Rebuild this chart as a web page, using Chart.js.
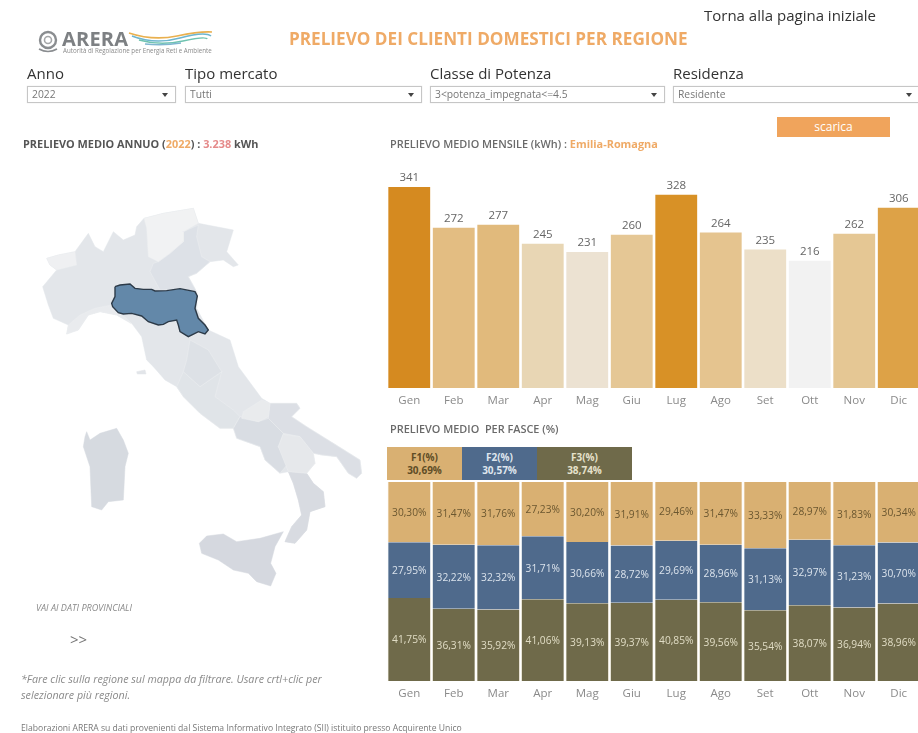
<!DOCTYPE html>
<html lang="it">
<head>
<meta charset="utf-8">
<title>Prelievo dei clienti domestici per regione</title>
<script src="https://cdn.jsdelivr.net/npm/chart.js@4"></script>
<style>
html,body{margin:0;padding:0;background:#fff;width:918px;height:733px;overflow:hidden;}
#page{position:absolute;left:0;top:0;width:918px;height:733px;overflow:hidden;font-family:"Open Sans",sans-serif;filter:blur(0.35px);}
.t{position:absolute;white-space:nowrap;line-height:1;}
.c{position:absolute;}
.lab{font-size:15px;color:#333;top:66px;}
.dd{position:absolute;top:86px;height:15px;border:1px solid #c6c6c6;box-shadow:0 0 1px #ddd;font-size:10.3px;color:#777;line-height:15px;padding-left:4px;box-sizing:content-box;}
.dd:after{content:"";position:absolute;right:7px;top:6px;border-left:3px solid transparent;border-right:3px solid transparent;border-top:4px solid #444;}
.h{font-size:10.9px;font-weight:700;color:#5f5f5f;}
.tile{position:absolute;top:447px;height:33px;font-size:10px;font-weight:700;text-align:center;line-height:13px;padding-top:4px;box-sizing:border-box;}
</style>
</head>
<body>
<div id="page">
  <svg class="c" style="left:35px;top:29px" width="180" height="26" viewBox="0 0 180 26">
    <circle cx="13" cy="11" r="8" fill="none" stroke="#8a8d90" stroke-width="2.4"/>
    <circle cx="13" cy="11" r="3.5" fill="none" stroke="#a5a7a9" stroke-width="1.6"/>
    <path d="M4 20 Q13 25 22 20" fill="none" stroke="#8a8d90" stroke-width="1.6"/>
    <path d="M94 4 Q118 12 142 7 T177 3" fill="none" stroke="#e9b04f" stroke-width="1.6"/>
    <path d="M97 7 Q120 16 145 9 T176 7" fill="none" stroke="#6db5cf" stroke-width="1.6"/>
    <path d="M104 11 Q125 17 148 12 T172 10" fill="none" stroke="#6fc3b0" stroke-width="1.6"/>
    <path d="M110 15 Q128 17 146 14" fill="none" stroke="#7fb6d0" stroke-width="1.4"/>
  </svg>
  <div class="t" style="left:62px;top:29px;font-size:20px;font-weight:700;color:#7d8083;letter-spacing:.2px">ARERA</div>
  <div class="t" style="left:63px;top:48px;font-size:6.2px;color:#8a8a8a">Autorità di Regolazione per Energia Reti e Ambiente</div>

  <div class="t" id="title" style="left:289px;top:30px;font-size:17.15px;font-weight:700;color:#efaa66">PRELIEVO DEI CLIENTI DOMESTICI PER REGIONE</div>
  <div class="t" style="left:704px;top:8px;font-size:15px;color:#333">Torna alla pagina iniziale</div>

  <div class="t lab" style="left:27px">Anno</div>
  <div class="t lab" style="left:185px">Tipo mercato</div>
  <div class="t lab" style="left:430px">Classe di Potenza</div>
  <div class="t lab" style="left:673px">Residenza</div>
  <div class="dd" style="left:27px;width:143px">2022</div>
  <div class="dd" style="left:185px;width:231px">Tutti</div>
  <div class="dd" style="left:430px;width:229px">3&lt;potenza_impegnata&lt;=4.5</div>
  <div class="dd" style="left:673px;width:241px">Residente</div>

  <div class="t" style="left:777px;top:117px;width:113px;height:20px;background:#f0a45c;color:#fff;font-size:12px;text-align:center;line-height:20px">scarica</div>

  <div class="t h" style="left:23px;top:139px;color:#555">PRELIEVO MEDIO ANNUO (<span style="color:#efaa66">2022</span>) : <span style="color:#e58a8a">3.238</span> kWh</div>
  <div class="t h" style="left:390px;top:139px;font-weight:600;color:#6a6a6a">PRELIEVO MEDIO MENSILE (kWh) : <span style="color:#efaa66;font-weight:700">Emilia-Romagna</span></div>
  <div class="t h" style="left:390px;top:424px;font-weight:600;color:#6a6a6a">PRELIEVO MEDIO&nbsp; PER FASCE (%)</div>

  <div class="tile" style="left:387px;width:75px;background:#d9b072;color:#5f4d26">F1(%)<br>30,69%</div>
  <div class="tile" style="left:462px;width:75px;background:#4f6a8c;color:#dfe6ee">F2(%)<br>30,57%</div>
  <div class="tile" style="left:537px;width:95px;background:#6f6a4a;color:#e6e2cc">F3(%)<br>38,74%</div>

  <div class="c" style="left:20px;top:190px;width:350px;height:410px;filter:blur(0.5px)"><canvas id="map"></canvas></div>
  <div class="c" style="left:387px;top:160px;width:534px;height:250px"><canvas id="monthly"></canvas></div>
  <div class="c" style="left:387px;top:482px;width:534px;height:221px"><canvas id="bands"></canvas></div>

  <div class="t" style="left:36px;top:603px;font-size:9.1px;font-style:italic;color:#8a8a8a">VAI AI DATI PROVINCIALI</div>
  <div class="t" style="left:70px;top:632px;font-size:15px;color:#777">&gt;&gt;</div>
  <div class="t" style="left:21px;top:674px;font-size:10.7px;font-style:italic;color:#8a8a8a">*Fare clic sulla regione sul mappa da filtrare. Usare crtl+clic per</div>
  <div class="t" style="left:21px;top:690px;font-size:10.7px;font-style:italic;color:#8a8a8a">selezionare più regioni.</div>
  <div class="t" style="left:21px;top:724px;font-size:8.6px;color:#777">Elaborazioni ARERA su dati provenienti dal Sistema Informativo Integrato (SII) istituito presso Acquirente Unico</div>
</div>

<script>
const months = ["Gen","Feb","Mar","Apr","Mag","Giu","Lug","Ago","Set","Ott","Nov","Dic"];
const monthlyKwh = [341,272,277,245,231,260,328,264,235,216,262,306];
const f1Pct = [30.30,31.47,31.76,27.23,30.20,31.91,29.46,31.47,33.33,28.97,31.83,30.34];
const f2Pct = [27.95,32.22,32.32,31.71,30.66,28.72,29.69,28.96,31.13,32.97,31.23,30.70];
const f3Pct = [41.75,36.31,35.92,41.06,39.13,39.37,40.85,39.56,35.54,38.07,36.94,38.96];

const mainland = [[80,205],[115,195],[165,185],[205,130],[225,170],[250,185],[280,125],[310,150],[345,135],[350,110],[372,85],[430,70],[520,55],[535,100],[640,120],[620,185],[655,225],[640,230],[610,210],[570,215],[530,250],[505,260],[530,305],[530,355],[565,420],[630,450],[655,530],[725,625],[750,640],[830,640],[840,655],[815,680],[860,710],[940,760],[1020,810],[1025,850],[1010,865],[985,850],[950,800],[905,795],[880,790],[885,820],[860,850],[880,880],[910,905],[915,950],[870,965],[860,1020],[825,1060],[795,1055],[815,1010],[845,975],[835,930],[820,880],[805,845],[780,850],[735,810],[720,770],[650,745],[640,715],[600,715],[540,670],[490,620],[470,590],[435,570],[400,530],[380,510],[365,440],[335,400],[290,375],[240,365],[205,375],[175,420],[140,432],[145,405],[100,385],[85,345],[68,290],[110,240],[90,225]];
const valleAosta = [[80,205],[115,195],[165,185],[170,225],[110,240],[90,225]];
const trentino = [[372,85],[430,70],[520,55],[535,100],[490,125],[490,155],[450,190],[415,215],[385,200],[380,115]];
const veneto = [[490,125],[535,105],[530,140],[545,200],[570,215],[530,250],[505,260],[530,305],[480,298],[420,300],[390,245],[400,220],[415,215],[450,190],[490,155]];
const liguria = [[140,432],[145,405],[180,375],[225,355],[275,345],[295,368],[320,385],[335,402],[290,375],[240,365],[205,375],[175,420]];
const umbria = [[510,450],[565,480],[605,545],[540,590],[490,545],[500,510]];
const lazio = [[470,590],[490,545],[540,590],[605,545],[585,620],[640,660],[660,680],[640,715],[600,715],[540,670],[490,620]];
const molise = [[670,665],[725,630],[750,640],[745,680],[715,695],[665,685]];
const puglia = [[750,640],[830,640],[840,655],[815,680],[860,710],[940,760],[1020,810],[1025,850],[1010,865],[985,850],[950,800],[905,795],[880,790],[840,740],[790,730],[745,685]];
const campania = [[660,680],[715,695],[745,685],[790,730],[775,770],[805,820],[780,850],[735,810],[720,770],[650,745],[640,715]];
const basilicata = [[790,733],[840,740],[880,790],[885,820],[860,850],[805,845],[775,770]];
const calabria = [[805,845],[860,850],[880,880],[910,905],[915,950],[870,965],[860,1020],[825,1060],[795,1055],[815,1010],[845,975],[835,930],[820,880]];
const sicilia = [[538,1060],[560,1038],[610,1032],[650,1055],[720,1045],[790,1025],[765,1070],[752,1120],[768,1150],[752,1188],[710,1175],[685,1150],[640,1140],[595,1110],[545,1090]];
const sardegna = [[195,740],[200,725],[210,750],[240,730],[290,715],[310,750],[325,790],[315,830],[310,930],[265,935],[245,960],[215,950],[210,830],[190,770]];
const elba = [[350,545],[375,540],[378,552],[352,552]];
const emiliaRomagna = [[285,290],[300,285],[330,282],[345,295],[370,298],[395,298],[405,303],[440,302],[480,296],[525,305],[532,318],[525,355],[535,385],[555,405],[565,420],[555,432],[535,425],[525,430],[505,440],[480,425],[475,405],[470,390],[445,395],[430,403],[415,405],[385,395],[365,378],[335,370],[310,372],[295,368],[278,350],[275,340],[285,320]];

const FONT = '"Open Sans", sans-serif';
Chart.defaults.font.family = FONT;
Chart.defaults.animation = false;
Chart.defaults.responsive = true;
Chart.defaults.maintainAspectRatio = false;
Chart.defaults.plugins.legend.display = false;
Chart.defaults.plugins.tooltip.enabled = false;

function region(points, fillColour, edge, width) {
  const closed = points.concat([points[0]]).map(p => ({x: p[0], y: p[1]}));
  return {data: closed, showLine: true, tension: 0, pointRadius: 0, fill: 'shape',
          backgroundColor: fillColour, borderColor: edge, borderWidth: width};
}
const edge = '#eceef0';
// datasets draw in reverse order, so the base map is last and the highlight first
new Chart(document.getElementById('map'), {
  type: 'scatter',
  data: {datasets: [
    region(emiliaRomagna, '#6388a9', '#2c3a48', 1.4),
    region(valleAosta, '#eff0f2', edge, 0.5),
    region(trentino, '#f1f2f3', edge, 0.5),
    region(veneto, '#dde1e7', edge, 0.5),
    region(liguria, '#e9ebee', edge, 0.5),
    region(umbria, '#dde1e6', edge, 0.5),
    region(molise, '#e9ebed', edge, 0.5),
    region(basilicata, '#e6e8eb', edge, 0.5),
    region(campania, '#d9dde3', edge, 0.5),
    region(puglia, '#dcdfe5', edge, 0.5),
    region(lazio, '#e0e4e8', edge, 0.5),
    region(calabria, '#d8dbe1', '#d8dbe1', 0.5),
    region(sicilia, '#d5d8df', '#d5d8df', 0.5),
    region(sardegna, '#d6dae0', '#d6dae0', 0.5),
    region(elba, '#e2e5e9', '#e2e5e9', 0.5),
    region(mainland, '#e3e6ea', '#e3e6ea', 0.5)
  ]},
  options: {
    layout: {padding: 0},
    scales: {
      x: {type: 'linear', min: 0, max: 1050, display: false},
      y: {type: 'linear', min: 0, max: 1230, reverse: true, display: false}
    }
  }
});

const barLabels = {
  id: 'barLabels',
  afterDatasetsDraw(chart, args, opts) {
    const ctx = chart.ctx;
    ctx.save();
    ctx.font = opts.font;
    ctx.textAlign = 'center';
    ctx.textBaseline = 'middle';
    chart.data.datasets.forEach((ds, di) => {
      chart.getDatasetMeta(di).data.forEach((bar, i) => {
        ctx.fillStyle = ds.labelColour;
        const text = opts.format(ds.data[i]);
        const y = opts.above ? bar.y - 9 : (bar.y + bar.base) / 2 + opts.nudge;
        ctx.fillText(text, bar.x, y);
      });
    });
    ctx.restore();
  }
};
const monthAxis = {
  stacked: false,
  grid: {display: false, drawTicks: false}, border: {display: false},
  ticks: {color: '#8a8a8a', font: {size: 11.5}, padding: 6, maxRotation: 0, autoSkip: false},
  afterFit: s => { s.height = 22; }
};

new Chart(document.getElementById('monthly'), {
  type: 'bar',
  data: {labels: months, datasets: [{
    data: monthlyKwh,
    backgroundColor: ['#d58a20','#e3bd82','#e1ba7c','#e8d6b4','#ece2d2','#e5c795','#d89126','#e5c48f','#ecdfc8','#f2f2f2','#e5c794','#dda247'],
    labelColour: '#666',
    categoryPercentage: 1, barPercentage: 0.94
  }]},
  options: {
    layout: {padding: 0},
    scales: {x: monthAxis, y: {display: false, min: 0, max: 387}},
    plugins: {barLabels: {font: '11.5px ' + FONT, above: true, format: v => String(v)}}
  },
  plugins: [barLabels]
});

const pct = v => v.toFixed(2).replace('.', ',') + '%';
const seam = {left: 0.7, right: 0.7, top: 0, bottom: 0};
new Chart(document.getElementById('bands'), {
  type: 'bar',
  data: {labels: months, datasets: [
    {data: f3Pct, backgroundColor: '#6f6a4a', borderColor: '#efe8d4', borderWidth: seam, labelColour: '#e0dcc4', categoryPercentage: 1, barPercentage: 0.97},
    {data: f2Pct, backgroundColor: '#4f6a8c', borderColor: '#e4e9ef', borderWidth: seam, labelColour: '#dbe3ec', categoryPercentage: 1, barPercentage: 0.97},
    {data: f1Pct, backgroundColor: '#d9b072', borderColor: '#f3e6cd', borderWidth: seam, labelColour: '#6b5730', categoryPercentage: 1, barPercentage: 0.97}
  ]},
  options: {
    layout: {padding: 0},
    scales: {
      x: Object.assign({}, monthAxis, {stacked: true}),
      y: {display: false, stacked: true, min: 0, max: 100}
    },
    plugins: {barLabels: {font: '10.2px ' + FONT, above: false, nudge: 1, format: pct}}
  },
  plugins: [barLabels]
});
</script>
</body>
</html>
